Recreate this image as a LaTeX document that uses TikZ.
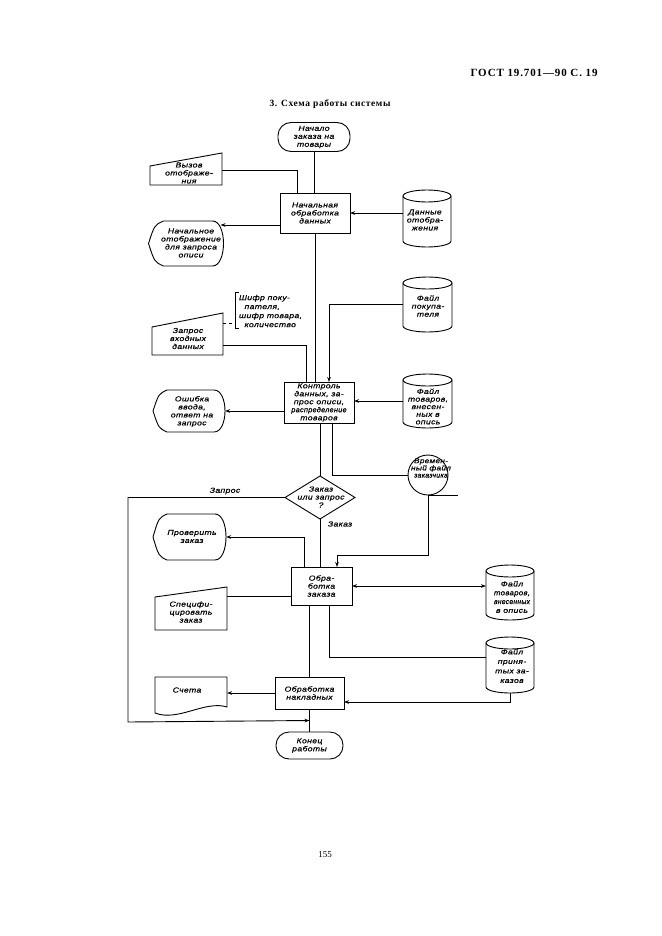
\documentclass[tikz,border=0pt]{standalone}
\usepackage{fontspec}
\usepackage{graphicx}
\setmainfont{Liberation Serif}
\newfontfamily\hand{Liberation Sans}[FakeStretch=1.2,LetterSpace=5,FakeBold=0.6]
\usetikzlibrary{arrows.meta,calc}
\newcommand\narrow[2][0.86]{\scalebox{#1}[1]{#2}}
\newcommand\maninshape[2]{\draw ([yshift=-#2]#1.north west) -- (#1.north east) -- (#1.south east) -- (#1.south west) -- cycle;}
\newcommand\dispshape[3]{\draw ([xshift=#2]#1.north west) -- ([xshift=-#3]#1.north east) .. controls ([xshift=#3/3]#1.north east) and ([xshift=#3/3]#1.south east) .. ([xshift=-#3]#1.south east) -- ([xshift=#2]#1.south west) .. controls ([xshift=#2*0.4,yshift=4pt]#1.south west) .. (#1.west) .. controls ([xshift=#2*0.4,yshift=-4pt]#1.north west) .. cycle;}
\newcommand\cylshape[3]{\draw ([yshift=#3]#1.south west) arc[start angle=180,end angle=360,x radius=#2,y radius=#3] -- ([yshift=-#3]#1.north east) arc[start angle=0,end angle=180,x radius=#2,y radius=#3] -- cycle;
\draw ([yshift=-#3]#1.north west) arc[start angle=180,end angle=360,x radius=#2,y radius=#3];}
\begin{document}
\begin{tikzpicture}[x=1pt,y=-1pt,line width=0.9pt,
  txt/.style={font={\hand\itshape\fontsize{7.2}{8}\selectfont},align=center,inner sep=0pt,outer sep=0pt},
  proc/.style={txt,draw},
  term/.style={txt,draw,rounded corners=13pt},
  box/.style={inner sep=0pt,outer sep=0pt},
  arr/.style={-{Stealth[length=5pt,width=3.6pt]}},
  arrb/.style={{Stealth[length=5pt,width=3.6pt]}-{Stealth[length=5pt,width=3.6pt]}}]
\useasboundingbox (0,0) rectangle (661,936);
% header texts
\node[font={\addfontfeatures{LetterSpace=8}\bfseries\fontsize{11}{13}\selectfont},anchor=east,inner sep=0pt] (hdr) at (598,73) {ГОСТ 19.701—90 С. 19};
\node[font={\addfontfeatures{LetterSpace=6}\bfseries\fontsize{9.5}{11}\selectfont},inner sep=0pt] (ttl) at (330,104) {3. Схема работы системы};
\node[font=\fontsize{9}{11}\selectfont,inner sep=0pt] (pg) at (325,855) {155};
% nodes
\node[term,minimum width=72pt,minimum height=29pt] (start) at (314,137) {Начало\\заказа на\\товары};
\node[box,minimum width=72pt,minimum height=32pt] (vyz) at (186,169) {};
\maninshape{vyz}{13pt}
\node[txt] (vyzt) at (189,173) {Вызов\\отображе-\\ния};
\node[proc,minimum width=70pt,minimum height=40pt] (p1) at (315,213) {Начальная\\обработка\\данных};
\node[box,minimum width=48pt,minimum height=57pt] (db1) at (427,218.5) {};
\cylshape{db1}{24pt}{6pt}
\node[txt] (db1t) at (425,220) {Данные\\отобра-\\жения};
\node[box,minimum width=75pt,minimum height=45pt] (d1) at (186,243.5) {};
\dispshape{d1}{15pt}{11pt}
\node[txt] (d1t) at (191,243) {Начальное\\отображение\\для запроса\\описи};
\node[txt,anchor=west,align=left,font={\hand\itshape\fontsize{7.2}{9}\selectfont}] (note) at (239,311) {Шифр поку-\\\ \ пателя,\\шифр товара,\\\ \ количество};
\draw ([xshift=-0.5pt,yshift=2pt]note.north west) -- ++(-3pt,0) -- ([xshift=-3.5pt,yshift=-1pt]note.south west) -- ++(3pt,0);
\coordinate (dsh) at (235,323);
\node[box,minimum width=71pt,minimum height=42pt] (zap) at (187.5,334) {};
\maninshape{zap}{14pt}
\node[txt] (zapt) at (188,338.5) {Запрос\\входных\\данных};
\draw[dash pattern=on 3pt off 3pt] ([yshift=-10pt]zap.north east) -- (dsh);
\node[box,minimum width=49pt,minimum height=55pt] (db2) at (427.5,304.5) {};
\cylshape{db2}{24.5pt}{6pt}
\node[txt] (db2t) at (428,306) {Файл\\покупа-\\теля};
\node[proc,minimum width=70pt,minimum height=41pt] (p2) at (319,402.5) {Контроль\\данных, за-\\прос описи,\\\narrow[0.84]{распределение}\\товаров};
\node[box,minimum width=49pt,minimum height=54pt] (db3) at (427.5,401) {};
\cylshape{db3}{24.5pt}{6pt}
\node[txt,font={\hand\itshape\fontsize{7.2}{7.6}\selectfont}] (db3t) at (428,406.5) {Файл\\товаров,\\внесен-\\ных в\\опись};
\node[box,minimum width=72pt,minimum height=42pt] (d2) at (189,411) {};
\dispshape{d2}{14pt}{11pt}
\node[txt] (d2t) at (192,411.5) {Ошибка\\ввода,\\ответ на\\запрос};
\node[draw,circle,minimum size=40pt,inner sep=0pt] (tape) at (428,475) {};
\draw (tape.south) -- ++(30pt,0);
\node[txt,font={\hand\itshape\fontsize{6.8}{7.2}\selectfont}] (tapet) at (431,468) {Времен-\\ный файл\\\narrow[0.85]{заказчика}};
\node[box,minimum width=70pt,minimum height=43pt] (dia) at (320,497.5) {};
\draw (dia.north) -- (dia.east) -- (dia.south) -- (dia.west) -- cycle;
\node[txt] (diat) at (321,497) {Заказ\\или запрос\\?};
\node[txt] (lq) at (225,491) {Запрос};
\node[txt] (lz) at (340,524) {Заказ};
\node[box,minimum width=73pt,minimum height=46pt] (d3) at (189.5,537) {};
\dispshape{d3}{14pt}{11pt}
\node[txt] (d3t) at (192,536.5) {Проверить\\заказ};
\node[proc,minimum width=61pt,minimum height=38pt] (p3) at (321.5,586) {Обра-\\ботка\\заказа};
\node[box,minimum width=72pt,minimum height=43pt] (spec) at (191,608.5) {};
\maninshape{spec}{10pt}
\node[txt] (spect) at (191,612) {Специфи-\\цировать\\заказ};
\node[box,minimum width=48pt,minimum height=55pt] (db4) at (510,592.5) {};
\cylshape{db4}{24pt}{6pt}
\node[txt,font={\hand\itshape\fontsize{7.2}{8.8}\selectfont}] (db4t) at (512,597) {Файл\\\narrow[0.9]{товаров,}\\\narrow[0.78]{внесенных}\\в опись};
\node[box,minimum width=48pt,minimum height=56pt] (db5) at (510,665) {};
\cylshape{db5}{24pt}{6pt}
\node[txt,font={\hand\itshape\fontsize{7.2}{9.5}\selectfont}] (db5t) at (512,666) {Файл\\приня-\\тых за-\\казов};
\node[proc,minimum width=69pt,minimum height=32pt] (p4) at (309.5,693) {Обработка\\накладных};
\node[box,minimum width=72pt,minimum height=40pt] (doc) at (191,697) {};
\draw (doc.north west) -- (doc.north east) -- ([yshift=10pt]doc.south east) .. controls ([xshift=-22pt,yshift=17pt]doc.south east) and ([xshift=23pt,yshift=-5pt]doc.south west) .. ([yshift=4pt]doc.south west) -- cycle;
\node[txt] (doct) at (187,690) {Счета};
\node[term,minimum width=67pt,minimum height=27pt] (end) at (309.5,745.5) {Конец\\работы};
% connectors
\draw (start.south) -- (start.south |- p1.north);
\draw ([yshift=-1pt]vyz.east) -| ([xshift=-18pt]p1.north);
\draw[arr] (db1.west |- p1.east) -- (p1.east);
\draw[arr] ([yshift=-12pt]p1.west) -- ([yshift=-12pt,xshift=-3pt]p1.west -| d1.east);
\draw (p1.south) -- (p1.south |- p2.north);
\draw ([yshift=-11pt]zap.east) -| ([xshift=-13pt]p2.north);
\draw[arr] (db2.west) -| ([xshift=10pt]p2.north);
\draw[arr] (db3.west) -- (db3.west -| p2.east);
\draw[arr] (p2.west |- d2.east) -- (d2.east);
\draw (p2.south -| dia.north) -- (dia.north);
\draw ([xshift=13pt]p2.south) |- (tape.west);
\draw[arr] (tape.south) -- ++(0,60) -| ([xshift=15.5pt]p3.north);
\draw[arr] (dia.west) -| ($(dia.west)+(-157,224.5)$) -- ($(p4.south)!0.5!(end.north)$);
\draw (dia.south) -- (dia.south |- p3.north);
\draw[arr] ([xshift=-17pt]p3.north) |- (d3.east);
\draw ([yshift=-10pt]p3.west) -- ([yshift=-10pt]p3.west -| spec.east);
\draw[arrb] (p3.east) -- (p3.east -| db4.west);
\draw ([xshift=-12pt]p3.south) -- ([xshift=-12pt]p3.south |- p4.north);
\draw ([xshift=7.5pt]p3.south) |- ([yshift=8pt]db5.west);
\draw[arr] (db5.south) |- ([yshift=-9pt]p4.east);
\draw[arr] (p4.west) -- (p4.west -| doc.east);
\draw (p4.south) -- (end.north);
\end{tikzpicture}
\end{document}
